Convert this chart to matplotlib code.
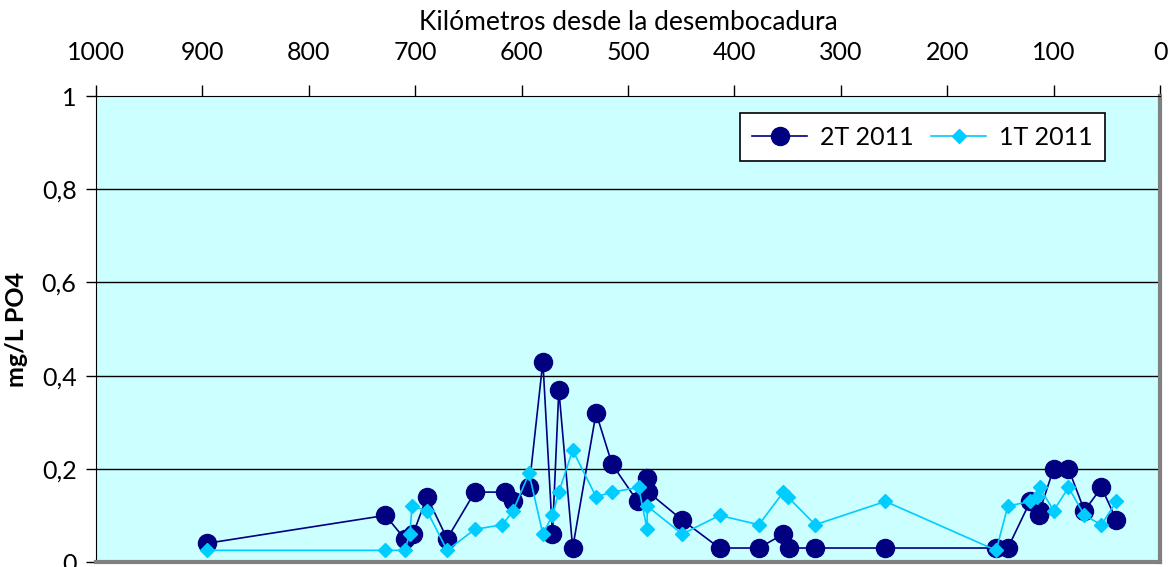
import matplotlib
matplotlib.use('Agg')
import matplotlib.pyplot as plt

plt.rcParams['font.family'] = ['Lato', 'DejaVu Sans']

# 2T 2011
km_2t = [896, 728, 710, 702, 689, 670, 644, 616, 608, 593, 580, 571, 565, 552, 530, 515,
         491, 482, 481, 449, 414, 377, 354, 349, 324, 258, 154, 143, 122, 114, 113, 100,
         86, 71, 55, 41]
po4_2t = [0.04, 0.10, 0.05, 0.06, 0.14, 0.05, 0.15, 0.15, 0.13, 0.16, 0.43, 0.06, 0.37, 0.03,
          0.32, 0.21, 0.13, 0.18, 0.15, 0.09, 0.03, 0.03, 0.06, 0.03, 0.03, 0.03, 0.03, 0.03,
          0.13, 0.10, 0.11, 0.20, 0.20, 0.11, 0.16, 0.09]

# 1T 2011
km_1t = [896, 728, 710, 705, 703, 689, 670, 644, 618, 608, 593, 580, 571, 565, 552, 530, 515,
         490, 482, 482, 449, 414, 377, 354, 350, 324, 258, 154, 143, 122, 116, 113, 100, 86,
         71, 55, 41]
po4_1t = [0.025, 0.025, 0.025, 0.06, 0.12, 0.11, 0.025, 0.07, 0.08, 0.11, 0.19, 0.06, 0.10,
          0.15, 0.24, 0.14, 0.15, 0.16, 0.07, 0.12, 0.06, 0.10, 0.08, 0.15, 0.14, 0.08, 0.13,
          0.025, 0.12, 0.13, 0.14, 0.16, 0.11, 0.16, 0.10, 0.08, 0.13]

yticks = [0, 0.2, 0.4, 0.6, 0.8, 1]
ytick_labels = ['0', '0,2', '0,4', '0,6', '0,8', '1']
xticks = list(range(0, 1001, 100))

fig = plt.figure(figsize=(11.7, 5.67), dpi=100)
ax = fig.add_axes([96 / 1170, 5 / 567, 1064 / 1170, 466 / 567])
ax.set_facecolor('#CCFFFF')

ax.plot(km_2t, po4_2t, color='#000080', lw=1.2, marker='o', ms=13, label='2T 2011', zorder=3)
ax.plot(km_1t, po4_1t, color='#00CCFF', lw=1.2, marker='D', ms=7.5, label='1T 2011', zorder=4)

ax.set_xlim(1000, 0)
ax.set_ylim(0, 1)
ax.set_yticks(yticks)
ax.set_yticklabels(ytick_labels)
ax.set_xticks(xticks)
ax.xaxis.tick_top()
ax.xaxis.set_label_position('top')
ax.tick_params(axis='x', direction='out', length=8, width=1, pad=15, labelsize=18)
ax.tick_params(axis='y', direction='out', length=7, width=1, pad=7, labelsize=18)

for y in yticks[1:-1]:
    ax.axhline(y, color='black', lw=1, zorder=1)

ax.spines['top'].set_color('black')
ax.spines['left'].set_color('black')
ax.spines['right'].set_color('#808080')
ax.spines['right'].set_linewidth(3)
ax.spines['bottom'].set_color('#808080')
ax.spines['bottom'].set_linewidth(3)

ax.set_xlabel('Kilómetros desde la desembocadura', fontsize=19, labelpad=8)
ax.set_ylabel('mg/L PO4', fontsize=18, fontweight='bold', labelpad=10)

leg = ax.legend(loc='upper right', bbox_to_anchor=(0.948, 0.9635), borderaxespad=0,
                ncol=2, fontsize=18, frameon=True, fancybox=False, edgecolor='black',
                framealpha=1, handlelength=2.2, handletextpad=0.5, columnspacing=0.7,
                borderpad=0.5)
leg.get_frame().set_facecolor('white')
leg.get_frame().set_linewidth(1.2)

fig.savefig('out.png', dpi=100)
